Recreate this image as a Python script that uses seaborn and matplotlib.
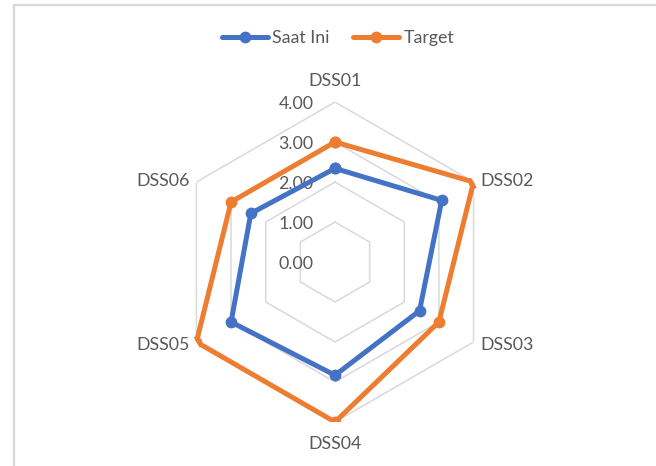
import numpy as np
import pandas as pd
import matplotlib
matplotlib.use("Agg")
import matplotlib.pyplot as plt
from matplotlib.lines import Line2D
from matplotlib.patches import Rectangle
import seaborn as sns

categories = ["DSS01", "DSS02", "DSS03", "DSS04", "DSS05", "DSS06"]
saat_ini = [2.34, 3.08, 2.44, 2.83, 3.00, 2.43]
target = [3.00, 4.00, 3.00, 4.00, 4.00, 3.00]
series_names = ["Saat Ini", "Target"]
ring_values = [1, 2, 3, 4]
radial_labels = ["0.00", "1.00", "2.00", "3.00", "4.00"]

colors = {"Saat Ini": "#4472C4", "Target": "#ED7D31"}
text_color = "#595959"
grid_color = "#D9D9D9"

sns.set_theme(style="white")
plt.rcParams["font.family"] = ["Lato", "DejaVu Sans"]
FS = 12.8

W, H = 656, 466
fig = plt.figure(figsize=(W / 100, H / 100), dpi=100)
cx, cy, R = 335, 262, 160
ax = fig.add_axes([(cx - R) / W, (H - cy - R) / H, 2 * R / W, 2 * R / H], projection="polar")
ax.set_theta_zero_location("N")
ax.set_theta_direction(-1)
ax.set_ylim(0, 4)
ax.grid(False)
ax.spines["polar"].set_visible(False)
ax.set_xticks([])
ax.set_yticks([])
ax.patch.set_alpha(0)

n = len(categories)
angles = [i * 2 * np.pi / n for i in range(n)]
closed_angles = angles + [angles[0]]

for v in ring_values:
    ax.plot(closed_angles, [v] * (n + 1), color=grid_color, lw=1.1, zorder=1)

rows = []
for name, vals in zip(series_names, [saat_ini, target]):
    for i, (a, v) in enumerate(zip(closed_angles, vals + [vals[0]])):
        rows.append({"theta": a, "value": v, "series": name, "order": i})
df = pd.DataFrame(rows)

LW, MS = 3.6, 8.5
for name in series_names:
    sub = df[df["series"] == name]
    sns.lineplot(data=sub, x="theta", y="value", sort=False, estimator=None, ax=ax,
                 color=colors[name], lw=LW, marker="o", markersize=MS,
                 markeredgewidth=0, legend=False, zorder=3)
ax.set_xlabel("")
ax.set_ylabel("")
ax.set_ylim(0, 4)

# category labels
for a, lab in zip(angles, categories):
    deg = np.degrees(a) % 360
    if deg < 1:
        ax.annotate(lab, xy=(a, 4), xytext=(0, 14.8), textcoords="offset points",
                    ha="center", va="center", fontsize=FS, color=text_color)
    elif abs(deg - 180) < 1:
        ax.annotate(lab, xy=(a, 4), xytext=(0, -16), textcoords="offset points",
                    ha="center", va="center", fontsize=FS, color=text_color)
    else:
        dy = 1.0 if (deg < 90 or deg > 270) else -2.5
        if deg < 180:
            ax.annotate(lab, xy=(a, 4), xytext=(5, dy), textcoords="offset points",
                        ha="left", va="center", fontsize=FS, color=text_color)
        else:
            ax.annotate(lab, xy=(a, 4), xytext=(-5, dy), textcoords="offset points",
                        ha="right", va="center", fontsize=FS, color=text_color)

# radial labels
for v, lab in enumerate(radial_labels):
    ax.annotate(lab, xy=(0, v), xytext=(-15.5, -1.4), textcoords="offset points",
                ha="right", va="center", fontsize=FS, color=text_color, zorder=2)

handles = [Line2D([0], [0], color=colors[s], lw=LW, marker="o", markersize=MS,
                  markeredgewidth=0) for s in series_names]
fig.legend(handles, series_names, loc="center", bbox_to_anchor=(338 / W, 1 - 38 / H),
           ncol=2, frameon=False, fontsize=FS, labelcolor=text_color,
           handlelength=2.6, handletextpad=0.25, columnspacing=1.3)

fig.patches.append(Rectangle((14 / W, -0.1), 1.2, 1.1 - 5 / H, transform=fig.transFigure,
                             fill=False, edgecolor=grid_color, lw=1.6))

fig.savefig("out.png", dpi=100)
